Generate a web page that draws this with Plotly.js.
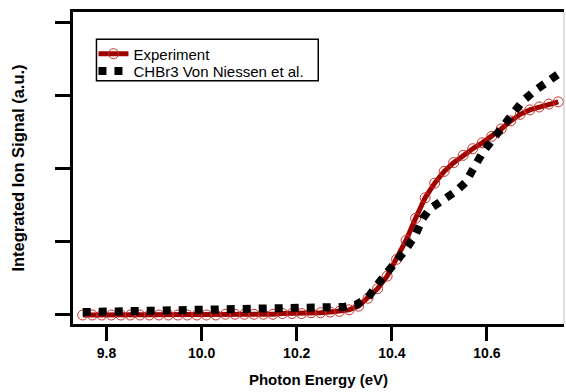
<!DOCTYPE html>
<html>
<head>
<meta charset="utf-8">
<script src="https://cdn.plot.ly/plotly-3.0.1.min.js"></script>
<style>html,body{margin:0;padding:0;background:#fff;}#chart{width:566px;height:392px;}</style>
</head>
<body>
<div id="chart"></div>
<script>
// Experiment (photon energy, eV) and integrated ion signal (a.u.)
var expEnergy = [9.75,9.77,9.79,9.81,9.83,9.85,9.87,9.89,9.91,9.93,9.95,9.97,9.99,10.01,10.03,10.05,10.07,10.09,10.11,10.13,10.15,10.17,10.19,10.21,10.23,10.25,10.27,10.29,10.31,10.33,10.35,10.37,10.39,10.41,10.43,10.45,10.47,10.49,10.51,10.53,10.55,10.57,10.59,10.61,10.63,10.65,10.67,10.69,10.71,10.73,10.75];
var expSignal = [0.00,0.00,0.00,0.00,0.00,0.00,0.00,0.00,0.00,0.00,0.00,0.00,0.00,0.00,0.00,0.01,0.01,0.01,0.01,0.01,0.01,0.02,0.02,0.02,0.03,0.03,0.04,0.05,0.07,0.12,0.23,0.36,0.53,0.76,1.02,1.32,1.60,1.80,1.96,2.08,2.18,2.27,2.35,2.44,2.54,2.65,2.74,2.80,2.84,2.88,2.91];
// CHBr3 Von Niessen et al.
var thEnergy = [9.75,9.80,9.90,10.00,10.10,10.20,10.25,10.30,10.325,10.35,10.37,10.39,10.41,10.43,10.45,10.465,10.48,10.51,10.535,10.555,10.575,10.59,10.61,10.63,10.655,10.675,10.70,10.725,10.75];
var thSignal = [0.04,0.045,0.05,0.055,0.065,0.08,0.09,0.11,0.14,0.24,0.42,0.58,0.72,0.90,1.10,1.32,1.45,1.58,1.69,1.81,2.05,2.21,2.38,2.56,2.76,2.92,3.06,3.16,3.29];
var xTicks = [9.8,10.0,10.2,10.4,10.6];
var xTickText = ['9.8','10.0','10.2','10.4','10.6'];
var yTicks = [0,1,2,3,4];

var traces = [
  {x: expEnergy, y: expSignal, name: 'Experiment', type: 'scatter', mode: 'lines+markers',
   legend: 'legend',
   line: {color: '#9e0000', width: 5},
   marker: {symbol: 'circle-open', size: 10, color: '#c8302a', line: {width: 1, color: '#c8302a'}}},
  {x: thEnergy, y: thSignal, name: 'CHBr3 Von Niessen et al.', type: 'scatter', mode: 'lines',
   legend: 'legend2',
   line: {color: '#000000', width: 8, dash: 'dot'}}
];

var font = 'Liberation Sans, Arial, Helvetica, sans-serif';
var legFont = {size: 15, family: font, color: '#000'};
var layout = {
  width: 566, height: 392,
  margin: {l: 72.5, r: 2, t: 12, b: 68},
  paper_bgcolor: '#ffffff', plot_bgcolor: '#ffffff',
  font: {family: font, color: '#000'},
  showlegend: true,
  legend: {x: 0.0417, y: 0.9183, xanchor: 'left', yanchor: 'top',
    borderwidth: 0, bgcolor: 'rgba(0,0,0,0)', font: legFont},
  legend2: {x: 0.0417, y: 0.8628, xanchor: 'left', yanchor: 'top',
    borderwidth: 0, bgcolor: 'rgba(0,0,0,0)', font: legFont},
  xaxis: {
    range: [9.7295, 10.762], tickvals: xTicks, ticktext: xTickText,
    showgrid: false, zeroline: false,
    showline: true, linecolor: '#000', linewidth: 3, mirror: true,
    ticks: 'outside', ticklen: 14, tickwidth: 3, tickcolor: '#000',
    tickfont: {size: 14, family: font, weight: 'bold', color: '#000'},
    title: {text: 'Photon Energy (eV)', font: {size: 15, family: font, weight: 'bold', color: '#000'}, standoff: 15}
  },
  yaxis: {
    range: [-0.123, 4.137], tickvals: yTicks, showticklabels: false,
    showgrid: false, zeroline: false,
    showline: true, linecolor: '#000', linewidth: 3, mirror: false,
    ticks: 'outside', ticklen: 15, tickwidth: 3, tickcolor: '#000',
    title: {text: 'Integrated Ion Signal (a.u.)', font: {size: 16.5, family: font, weight: 'bold', color: '#000'}, standoff: 27}
  },
  shapes: [
    {type: 'line', xref: 'paper', yref: 'paper', x0: 1, x1: 1, y0: 0, y1: 1,
     line: {color: '#bbbbbb', width: 1}},
    {type: 'rect', xref: 'paper', yref: 'paper', x0: 0.0478, x1: 0.4995, y0: 0.7798, y1: 0.9125,
     line: {color: '#000', width: 1.5}, fillcolor: 'rgba(0,0,0,0)', layer: 'above'}
  ]
};

Plotly.newPlot('chart', traces, layout, {staticPlot: true, displayModeBar: false});
</script>
</body>
</html>
